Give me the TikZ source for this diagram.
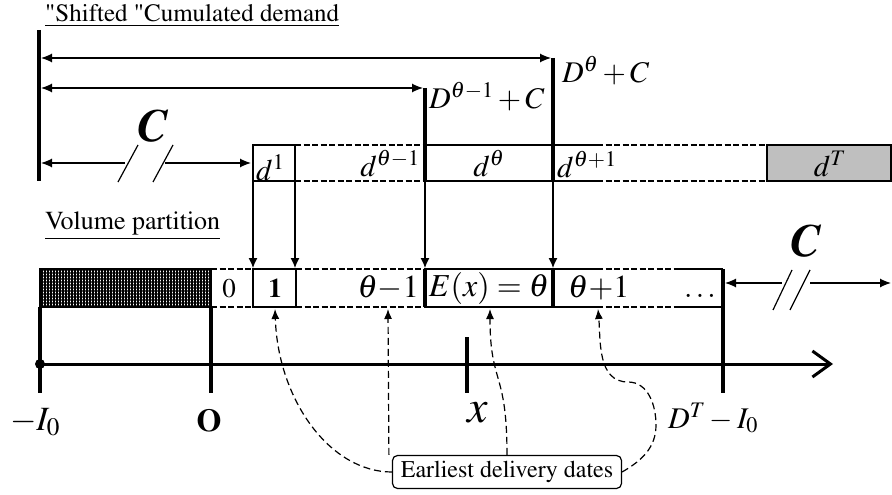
\documentclass[tikz,border=0pt]{standalone}
\usepackage[T1]{fontenc}
\usepackage{mathptmx}
\usepackage{tikz}
\usetikzlibrary{arrows.meta,positioning,calc,patterns.meta}

\tikzset{
  bar/.style={line width=3.5pt},
  cell/.style={line width=2pt},
  celldash/.style={line width=2pt,dash pattern=on 6pt off 2.5pt},
  dimline/.style={line width=1.2pt},
  slash/.style={line width=1.2pt},
  conn/.style={line width=1.2pt,dash pattern=on 7pt off 4pt,-{Latex[length=10pt,width=8pt]}},
  lbl/.style={font=\fontsize{25}{29}\selectfont,inner sep=0pt},
  mth/.style={font=\fontsize{30}{34}\selectfont,inner sep=0pt},
  bigC/.style={font=\fontsize{46}{50}\selectfont\bfseries\itshape,inner sep=0pt},
}

\begin{document}
\begin{tikzpicture}[x=1pt,y=-1pt,>=Latex]
\useasboundingbox (0,0) rectangle (892,495);

% headings
\node[lbl,anchor=base west] (title) at (45,22) {\underline{\textquotedbl Shifted \textquotedbl Cumulated demand}};
\node[lbl,font=\fontsize{26}{30}\selectfont,anchor=base west] (vol) at (45,229) {\underline{Volume partition}};

% cumulated demand: bars and dimension arrows
\coordinate (o0) at (39,30);
\draw[bar] (o0) -- (39,181);
\draw[bar] (425,88) -- (425,181);
\draw[bar] (553,58) -- (553,181);
\draw[dimline,{Latex[length=11pt,width=9pt]}-{Latex[length=11pt,width=9pt]}] (41,58) -- (551,58);
\draw[dimline,{Latex[length=11pt,width=9pt]}-{Latex[length=11pt,width=9pt]}] (41,88) -- (423,88);
\draw[dimline,{Latex[length=11pt,width=9pt]}-] (41,163) -- (125,163);
\draw[dimline,-{Latex[length=11pt,width=9pt]}] (165,163) -- (251,163);
\draw[slash] (118,182) -- (138,145);
\draw[slash] (153,182) -- (173,145);
\node[bigC] (cL) at (153,126) {C};
\node[mth,anchor=base west] (Dm) at (429,108) {$D^{\theta-1}+C$};
\node[mth,anchor=base west] (Dt) at (562,82) {$D^{\theta}+C$};

% top strip
\draw[cell] (253,145) rectangle (295,181);
\draw[celldash] (295,145) -- (425,145) (295,181) -- (425,181);
\draw[cell] (425,145) -- (597,145) (425,181) -- (597,181);
\draw[celldash] (597,145) -- (767,145) (597,181) -- (767,181);
\draw[cell,fill=gray!50] (767,145) rectangle (891,181);
\node[mth,anchor=base west] (d1) at (256,180) {$d^{1}$};
\node[mth,anchor=base east] (dm) at (420,176) {$d^{\theta-1}$};
\node[mth,anchor=base] (dt) at (489,176) {$d^{\theta}$};
\node[mth,anchor=base west] (dp) at (557,177) {$d^{\theta+1}$};
\node[mth,anchor=base] (dT) at (830,176) {$d^{T}$};

% projection arrows
\foreach \xx/\n in {253/a,295/b,425/c,553/d} {
  \coordinate (t\n) at (\xx,181);
  \coordinate (b\n) at (\xx,268);
  \draw[dimline,-{Latex[length=10pt,width=9pt]}] (t\n) -- (b\n);
}

% bottom strip
\fill[pattern={Hatch[angle=0,distance=3pt,line width=1.2pt]}] (40,269) rectangle (211,307);
\draw[cell] (40,269) rectangle (211,307);
\draw[celldash] (211,269) -- (253,269) (211,307) -- (253,307);
\draw[cell] (253,269) rectangle (296,307);
\draw[celldash] (296,269) -- (425,269) (296,307) -- (425,307);
\draw[cell] (425,269) -- (597,269) (425,307) -- (597,307);
\draw[celldash] (597,269) -- (678,269) (597,307) -- (678,307);
\draw[cell] (678,269) -- (723,269) (678,307) -- (723,307);
\draw[bar] (425,269) -- (425,307);
\draw[bar] (553,269) -- (553,307);
\node[lbl,font=\fontsize{27}{30}\selectfont,anchor=base] (p0) at (229,297) {0};
\node[lbl,font=\fontsize{27}{30}\selectfont\bfseries,anchor=base] (p1) at (275,297) {1};
\node[mth,font=\fontsize{32}{36}\selectfont,anchor=base east] (pm) at (419,297) {$\theta{-}1$};
\node[mth,font=\fontsize{32}{36}\selectfont,anchor=base] (pt) at (489,296) {$E(x)=\theta$};
\node[mth,font=\fontsize{32}{36}\selectfont,anchor=base west] (pp) at (568,297) {$\theta{+}1$};
\node[mth,anchor=base] (pd) at (700,297) {$\dots$};

% capacity beyond the horizon
\draw[dimline,{Latex[length=11pt,width=9pt]}-] (725,283) -- (782,283);
\draw[dimline,-{Latex[length=11pt,width=9pt]}] (810,283) -- (891,283);
\draw[slash] (773,310) -- (792,270);
\draw[slash] (790,310) -- (810,270);
\node[bigC] (cR) at (806,241) {C};

% axis
\coordinate (ax0) at (40,364);
\coordinate (ax1) at (833,364);
\draw[line width=3pt,-{Straight Barb[length=18pt,width=26pt,line width=3pt]}] (ax0) -- (ax1);
\fill (ax0) circle (5);
\draw[bar] (40,307) -- (40,393);
\draw[bar] (211,307) -- (211,393);
\draw[bar] (723,269) -- (723,393);
\draw[bar] (467,337) -- (467,393);
\node[mth,font=\fontsize{34}{38}\selectfont,anchor=base] (mI) at (35,430) {$-I_{0}$};
\node[mth,font=\fontsize{32}{36}\selectfont\bfseries,anchor=base] (zero) at (209,431) {O};
\node[mth,font=\fontsize{46}{50}\selectfont,anchor=base] (xx) at (478,422) {$x$};
\node[mth,anchor=base west] (DT) at (668,428) {$D^{T}-I_{0}$};

% earliest delivery dates
\node[lbl,font=\fontsize{24}{28}\selectfont,draw,line width=1.2pt,rounded corners=5pt,minimum width=229pt,minimum height=33pt] (dates) at (507,472) {Earliest delivery dates};
\coordinate (e1) at (275,309);
\coordinate (e2) at (388,309);
\coordinate (e3) at (490,309);
\coordinate (e4) at (598,309);
\draw[conn] (dates.west) .. controls (330,472) and (278,400) .. (e1);
\draw[conn] ($(dates.north west)+(-3,0)$) -- (e2);
\draw[conn] (dates.north) .. controls (507,370) and (490,385) .. (e3);
\draw[conn] (dates.east) to[out=30,in=-90] (656,425) to[out=90,in=0] (628,382) to[out=180,in=-85] (e4);
\end{tikzpicture}
\end{document}
